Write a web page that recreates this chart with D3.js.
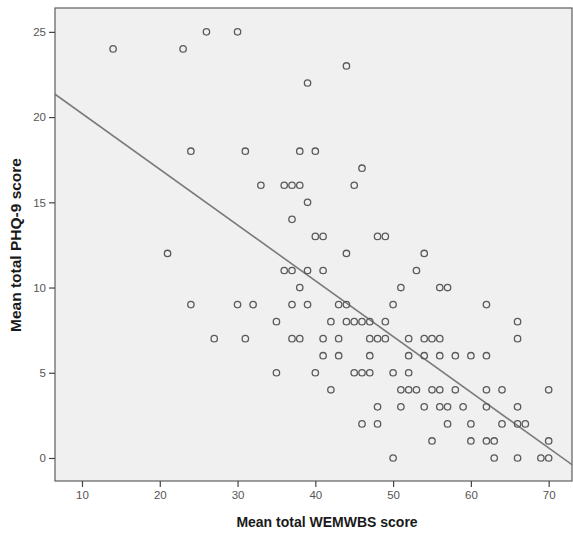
<!DOCTYPE html>
<html>
<head>
<meta charset="utf-8">
<script src="https://cdn.jsdelivr.net/npm/d3@7"></script>
<style>
  html, body { margin: 0; padding: 0; background: #fff; }
  svg { display: block; }
</style>
</head>
<body>
<svg width="573" height="533"></svg>
<script>
// WEMWBS (x) values grouped by PHQ-9 score (y)
const phqLevels = [25, 24, 23, 22, 18, 17, 16, 15, 14, 13, 12, 11, 10, 9, 8, 7, 6, 5, 4, 3, 2, 1, 0];
const wemwbsByPhq = [
  [26, 30],
  [14, 23],
  [44],
  [39],
  [24, 31, 38, 40],
  [46],
  [33, 36, 37, 38, 45],
  [39],
  [37],
  [40, 41, 48, 49],
  [21, 44, 54],
  [36, 37, 39, 41, 53],
  [38, 51, 56, 57],
  [24, 30, 32, 37, 39, 43, 44, 50, 62],
  [35, 42, 44, 45, 46, 47, 49, 66],
  [27, 31, 37, 38, 41, 43, 47, 48, 49, 52, 54, 55, 56, 66],
  [41, 43, 47, 52, 54, 56, 58, 60, 62],
  [35, 40, 45, 46, 47, 50, 52],
  [42, 51, 52, 53, 55, 56, 58, 62, 64, 70],
  [48, 51, 54, 56, 57, 59, 62, 66],
  [46, 48, 57, 60, 64, 66, 67],
  [55, 60, 62, 63, 70],
  [50, 63, 66, 69, 70]
];
const xTicks = [10, 20, 30, 40, 50, 60, 70];
const yTicks = [0, 5, 10, 15, 20, 25];
// fit line
const fitIntercept = 23.48;
const fitSlope = -0.327;

const points = [];
phqLevels.forEach((p, i) => wemwbsByPhq[i].forEach(w => points.push({ w, p })));

const svg = d3.select('svg');
const plotL = 55, plotR = 572, plotT = 8, plotB = 481;

const x = d3.scaleLinear().domain([6.53, 73.0]).range([plotL, plotR]);
const y = d3.scaleLinear().domain([-1.35, 26.4]).range([plotB, plotT]);

svg.append('defs').append('clipPath').attr('id', 'plotClip')
  .append('rect')
  .attr('x', plotL).attr('y', plotT)
  .attr('width', plotR - plotL).attr('height', plotB - plotT);

// plot background
svg.append('rect')
  .attr('x', plotL).attr('y', plotT)
  .attr('width', plotR - plotL).attr('height', plotB - plotT)
  .attr('fill', '#f0f0f0');

// fit line
const xd = x.domain();
svg.append('line')
  .attr('clip-path', 'url(#plotClip)')
  .attr('x1', x(xd[0])).attr('y1', y(fitIntercept + fitSlope * xd[0]))
  .attr('x2', x(xd[1])).attr('y2', y(fitIntercept + fitSlope * xd[1]))
  .attr('stroke', '#7a7a7a')
  .attr('stroke-width', 1.6);

// points
svg.append('g').selectAll('circle')
  .data(points)
  .join('circle')
  .attr('cx', d => x(d.w))
  .attr('cy', d => y(d.p))
  .attr('r', 3.2)
  .attr('fill', 'none')
  .attr('stroke', '#5a5a5a')
  .attr('stroke-width', 1.3);

// frame
svg.append('rect')
  .attr('x', plotL).attr('y', plotT)
  .attr('width', plotR - plotL).attr('height', plotB - plotT)
  .attr('fill', 'none')
  .attr('stroke', '#5e5e5e')
  .attr('stroke-width', 1.2);

// axes
const xAxis = svg.append('g')
  .attr('transform', `translate(0,${plotB})`)
  .call(d3.axisBottom(x).tickValues(xTicks).tickSize(6).tickPadding(4));
const yAxis = svg.append('g')
  .attr('transform', `translate(${plotL},0)`)
  .call(d3.axisLeft(y).tickValues(yTicks).tickSize(6).tickPadding(3));

[xAxis, yAxis].forEach(a => {
  a.select('.domain').remove();
  a.selectAll('.tick line').attr('stroke', '#444').attr('stroke-width', 1.2);
  a.selectAll('.tick text')
    .attr('fill', '#555')
    .style('font-family', '"Liberation Sans", Arial, sans-serif')
    .style('font-size', '11.5px');
});

// axis titles
svg.append('text')
  .attr('x', 327)
  .attr('y', 527)
  .attr('text-anchor', 'middle')
  .style('font-family', '"Liberation Sans", Arial, sans-serif')
  .style('font-size', '14px')
  .style('font-weight', 'bold')
  .attr('fill', '#1a1a1a')
  .text('Mean total WEMWBS score');

svg.append('text')
  .attr('transform', 'translate(21,245) rotate(-90)')
  .attr('text-anchor', 'middle')
  .style('font-family', '"Liberation Sans", Arial, sans-serif')
  .style('font-size', '15.5px')
  .style('font-weight', 'bold')
  .attr('fill', '#1a1a1a')
  .text('Mean total PHQ-9 score');
</script>
</body>
</html>
